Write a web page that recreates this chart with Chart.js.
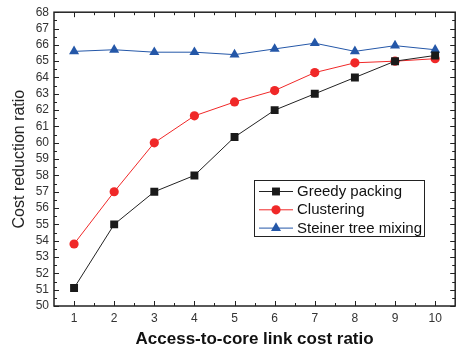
<!DOCTYPE html>
<html lang="en">
<head>
    <meta charset="UTF-8">
    <title>Cost reduction ratio</title>
    <script src="https://cdn.jsdelivr.net/npm/chart.js"></script>
    <style>
        html, body { margin: 0; padding: 0; background: #fff; }
        .chart-container { width: 461px; height: 348px; }
    </style>
</head>
<body>
    <div class="chart-container">
        <canvas id="costChart" width="461" height="348"></canvas>
    </div>

    <script>
        // values
        const ratios = [1, 2, 3, 4, 5, 6, 7, 8, 9, 10];
        const greedy = [51.1, 55.0, 57.0, 58.0, 60.35, 62.0, 63.0, 64.0, 65.0, 65.35];
        const clustering = [53.8, 57.0, 60.0, 61.65, 62.5, 63.2, 64.3, 64.9, 65.0, 65.15];
        const steiner = [65.6, 65.7, 65.55, 65.55, 65.4, 65.75, 66.1, 65.6, 65.95, 65.7];
        const yTicks = [50, 51, 52, 53, 54, 55, 56, 57, 58, 59, 60, 61, 62, 63, 64, 65, 66, 67, 68];

        const FONT = "'Liberation Sans', Arial, sans-serif";

        function pts(values) {
            return ratios.map((r, i) => ({ x: r, y: values[i] }));
        }

        // frame with inward major/minor ticks on all four sides
        const framePlugin = {
            id: 'frame',
            afterDraw(chart) {
                const { ctx, chartArea: a, scales } = chart;
                const x = scales.x, y = scales.y;
                ctx.save();
                ctx.strokeStyle = '#222';
                ctx.lineWidth = 1;
                ctx.beginPath();
                ratios.forEach(v => {
                    const px = Math.round(x.getPixelForValue(v)) + 0.5;
                    ctx.moveTo(px, a.bottom); ctx.lineTo(px, a.bottom - 5);
                    ctx.moveTo(px, a.top); ctx.lineTo(px, a.top + 5);
                });
                for (let v = 1.5; v < 10; v += 1) {
                    const px = Math.round(x.getPixelForValue(v)) + 0.5;
                    ctx.moveTo(px, a.bottom); ctx.lineTo(px, a.bottom - 3);
                    ctx.moveTo(px, a.top); ctx.lineTo(px, a.top + 3);
                }
                yTicks.forEach(v => {
                    const py = Math.round(y.getPixelForValue(v)) + 0.5;
                    ctx.moveTo(a.left, py); ctx.lineTo(a.left + 5, py);
                    ctx.moveTo(a.right, py); ctx.lineTo(a.right - 5, py);
                });
                for (let v = 50.5; v < 68; v += 1) {
                    const py = Math.round(y.getPixelForValue(v)) + 0.5;
                    ctx.moveTo(a.left, py); ctx.lineTo(a.left + 3, py);
                    ctx.moveTo(a.right, py); ctx.lineTo(a.right - 3, py);
                }
                ctx.stroke();
                ctx.lineWidth = 1.5;
                ctx.strokeRect(a.left, a.top, a.right - a.left, a.bottom - a.top);
                ctx.restore();
            }
        };

        // boxed legend inside the plot, like the original
        const legendPlugin = {
            id: 'boxLegend',
            afterDraw(chart) {
                const ctx = chart.ctx;
                const bx = 254, by = 180, bw = 170, bh = 56;
                ctx.save();
                ctx.fillStyle = '#fff';
                ctx.fillRect(bx, by, bw, bh);
                ctx.strokeStyle = '#222';
                ctx.lineWidth = 1;
                ctx.strokeRect(bx + 0.5, by + 0.5, bw, bh);
                chart.data.datasets.forEach((ds, i) => {
                    const ry = by + 11.5 + i * 18.3;
                    ctx.strokeStyle = ds.borderColor;
                    ctx.lineWidth = 1;
                    ctx.beginPath();
                    ctx.moveTo(259, ry); ctx.lineTo(293, ry);
                    ctx.stroke();
                    ctx.fillStyle = ds.pointBackgroundColor;
                    ctx.strokeStyle = ds.pointBackgroundColor;
                    Chart.helpers.drawPoint(ctx, {
                        pointStyle: ds.pointStyle, radius: ds.pointRadius, borderWidth: 0, rotation: 0
                    }, 276, ry);
                    ctx.fillStyle = '#111';
                    ctx.font = '15px ' + FONT;
                    ctx.textBaseline = 'middle';
                    ctx.fillText(ds.label, 297, ry + 0.5);
                });
                ctx.restore();
            }
        };

        new Chart(document.getElementById('costChart'), {
            type: 'line',
            data: {
                datasets: [
                    {
                        label: 'Greedy packing',
                        data: pts(greedy),
                        borderColor: '#222',
                        pointBackgroundColor: '#1a1a1a',
                        pointBorderWidth: 0,
                        pointStyle: 'rect',
                        pointRadius: 5.6,
                        borderWidth: 1
                    },
                    {
                        label: 'Clustering',
                        data: pts(clustering),
                        borderColor: '#f02828',
                        pointBackgroundColor: '#f02828',
                        pointBorderWidth: 0,
                        pointStyle: 'circle',
                        pointRadius: 4.6,
                        borderWidth: 1
                    },
                    {
                        label: 'Steiner tree mixing',
                        data: pts(steiner),
                        borderColor: '#2457a8',
                        pointBackgroundColor: '#2457a8',
                        pointBorderWidth: 0,
                        pointStyle: 'triangle',
                        pointRadius: 5.8,
                        borderWidth: 1
                    }
                ]
            },
            options: {
                responsive: false,
                animation: false,
                layout: { padding: { top: 10, right: 1, left: 0, bottom: 0 } },
                plugins: {
                    legend: { display: false },
                    tooltip: { enabled: false }
                },
                scales: {
                    x: {
                        type: 'linear',
                        min: 0.5,
                        max: 10.5,
                        afterBuildTicks: s => { s.ticks = ratios.map(v => ({ value: v })); },
                        afterFit: s => { s.height = 42; },
                        grid: { display: false, drawTicks: false },
                        border: { display: false },
                        ticks: { font: { family: FONT, size: 12 }, color: '#333', padding: 5, autoSkip: false, maxRotation: 0 },
                        title: {
                            display: true,
                            text: 'Access-to-core link cost ratio',
                            font: { family: FONT, size: 17, weight: 'bold', lineHeight: 1 },
                            color: '#111',
                            padding: { top: 0, bottom: 0.5 }
                        }
                    },
                    y: {
                        min: 50,
                        max: 68,
                        afterBuildTicks: s => { s.ticks = yTicks.map(v => ({ value: v })); },
                        afterFit: s => { s.width = 54; },
                        grid: { display: false, drawTicks: false },
                        border: { display: false },
                        ticks: { font: { family: FONT, size: 12 }, color: '#333', padding: 5, autoSkip: false },
                        title: {
                            display: true,
                            text: 'Cost reduction ratio',
                            font: { family: FONT, size: 16 },
                            color: '#222',
                            padding: { top: 9.5, bottom: 0 }
                        }
                    }
                }
            },
            plugins: [framePlugin, legendPlugin]
        });
    </script>
</body>
</html>
